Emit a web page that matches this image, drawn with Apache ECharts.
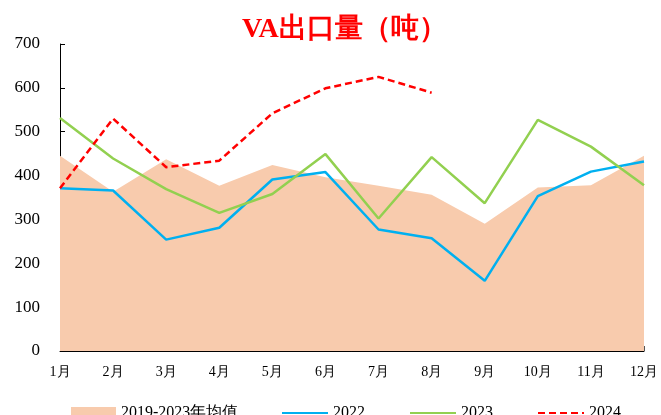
<!DOCTYPE html>
<html>
<head>
<meta charset="utf-8">
<script src="https://cdn.jsdelivr.net/npm/echarts@6/dist/echarts.min.js"></script>
<style>
  html, body { margin: 0; padding: 0; background: #fff; }
  #main { width: 661px; height: 415px; }
</style>
</head>
<body>
<div id="main"></div>
<script>
var months = ['1月', '2月', '3月', '4月', '5月', '6月', '7月', '8月', '9月', '10月', '11月', '12月'];
var avg1923 = [445, 363, 437, 377, 424, 396, 377, 356, 290, 373, 378, 445];
var y2022 = [371, 366, 254, 281, 391, 408, 277, 257, 160, 353, 409, 432];
var y2023 = [531, 439, 369, 315, 358, 449, 302, 442, 337, 527, 466, 378];
var y2024 = [371, 530, 419, 434, 542, 599, 625, 589];

var chart = echarts.init(document.getElementById('main'));
var serif = '"Liberation Serif", "Times New Roman", serif';

var option = {
    animation: false,
    title: {
        text: 'VA出口量（吨）',
        left: 237,
        top: 11,
        textStyle: { color: '#FF0000', fontSize: 28, fontWeight: 'bold', fontFamily: serif }
    },
    legend: [
        {
            left: 66,
            top: 400,
            itemWidth: 45,
            itemHeight: 12,
            itemGap: 5,
            textStyle: { fontSize: 16, fontFamily: serif, color: '#000' },
            data: [{ name: '2019-2023年均值', icon: 'rect' }]
        },
        {
            left: 276,
            top: 400,
            itemWidth: 46,
            itemHeight: 10,
            itemGap: 44,
            itemStyle: { opacity: 0 },
            textStyle: { fontSize: 16, fontFamily: serif, color: '#000' },
            data: ['2022', '2023', '2024']
        }
    ],
    grid: { left: 60, right: 14, top: 44, bottom: 64 },
    xAxis: {
        type: 'category',
        boundaryGap: false,
        data: months,
        axisLine: { lineStyle: { color: '#000', width: 1 } },
        axisTick: { inside: true, length: 5, lineStyle: { color: '#555' } },
        axisLabel: { color: '#000', fontSize: 14, fontFamily: serif, margin: 14 }
    },
    yAxis: {
        type: 'value',
        min: 0,
        max: 700,
        interval: 100,
        splitLine: { show: false },
        axisLine: { show: true, lineStyle: { color: '#000', width: 1 } },
        axisTick: { show: true, inside: true, length: 5, lineStyle: { color: '#000' } },
        axisLabel: { color: '#000', fontSize: 17, fontFamily: serif, margin: 20 }
    },
    series: [
        {
            name: '2019-2023年均值',
            type: 'line',
            data: avg1923,
            symbol: 'none',
            lineStyle: { width: 0 },
            itemStyle: { color: '#F8CBAD' },
            areaStyle: { color: '#F8CBAD', opacity: 1 },
            z: 1
        },
        {
            name: '2022',
            type: 'line',
            data: y2022,
            symbol: 'none',
            itemStyle: { color: '#00B0F0' },
            lineStyle: { color: '#00B0F0', width: 2.5 },
            z: 3
        },
        {
            name: '2023',
            type: 'line',
            data: y2023,
            symbol: 'none',
            itemStyle: { color: '#92D050' },
            lineStyle: { color: '#92D050', width: 2.5 },
            z: 3
        },
        {
            name: '2024',
            type: 'line',
            data: y2024,
            symbol: 'none',
            itemStyle: { color: '#FF0000' },
            lineStyle: { color: '#FF0000', width: 2.5, type: [7, 4] },
            z: 4
        }
    ]
};

chart.setOption(option);
</script>
</body>
</html>
